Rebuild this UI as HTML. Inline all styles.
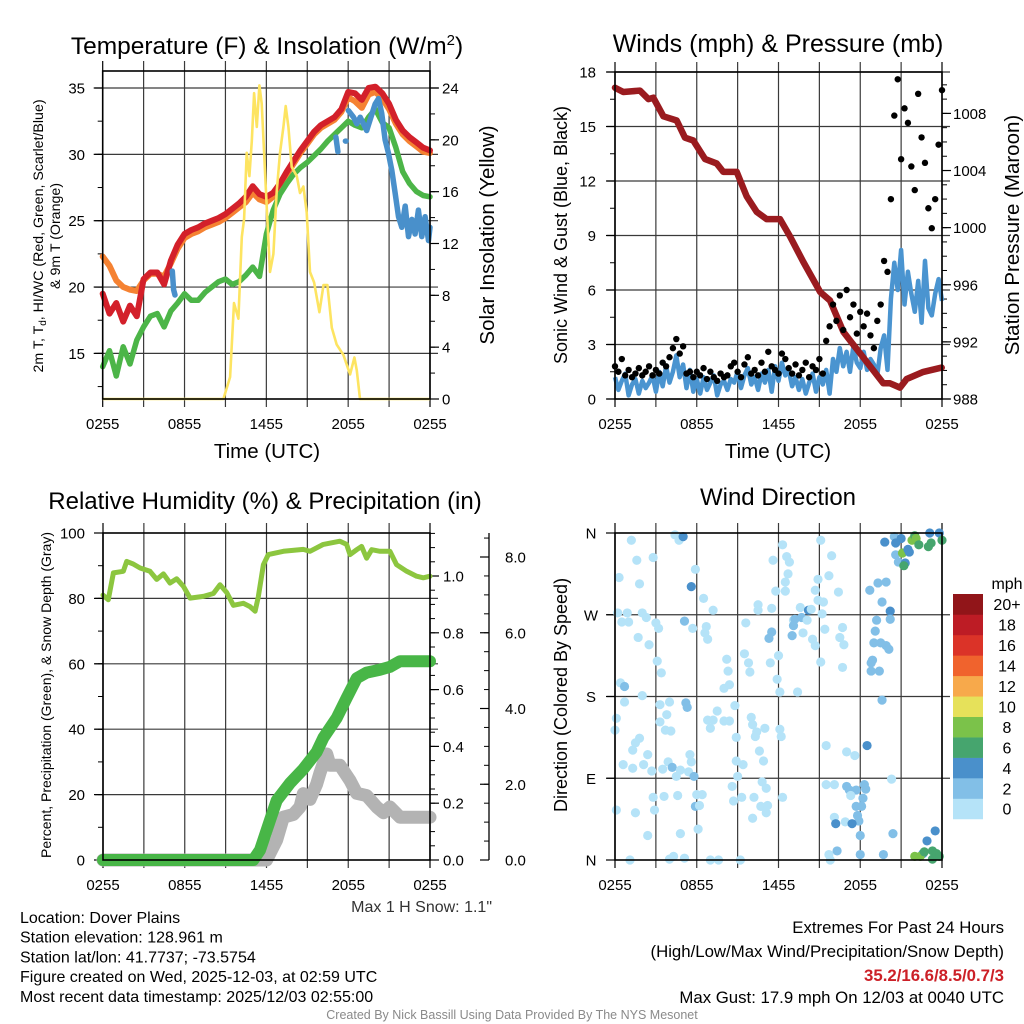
<!DOCTYPE html>
<html>
<head>
<meta charset="utf-8">
<style>
html,body{margin:0;padding:0;background:#fff;}
svg{display:block;font-family:"Liberation Sans",Arial,sans-serif;}
</style>
</head>
<body>
<svg id="chart" width="1024" height="1024" viewBox="0 0 1024 1024" xmlns="http://www.w3.org/2000/svg">
<rect x="0" y="0" width="1024" height="1024" fill="#fff"/>
<text x="267" y="54" font-size="24.5" text-anchor="middle">Temperature (F) &amp; Insolation (W/m<tspan dy="-9" font-size="15">2</tspan><tspan dy="9">)</tspan></text>
<text x="778" y="52" font-size="25" text-anchor="middle">Winds (mph) &amp; Pressure (mb)</text>
<text x="265" y="509" font-size="24" text-anchor="middle">Relative Humidity (%) &amp; Precipitation (in)</text>
<text x="778" y="505" font-size="24" text-anchor="middle">Wind Direction</text>
<text x="267" y="458" font-size="20.5" text-anchor="middle">Time (UTC)</text>
<text x="778" y="458" font-size="20.5" text-anchor="middle">Time (UTC)</text>
<text transform="translate(43,236) rotate(-90)" font-size="14.2" text-anchor="middle">2m T, T<tspan dy="3" font-size="10">d</tspan><tspan dy="-3">, HI/WC (Red, Green, Scarlet/Blue)</tspan></text>
<text transform="translate(60,236) rotate(-90)" font-size="14.2" text-anchor="middle">&amp; 9m T (Orange)</text>
<text transform="translate(494,235) rotate(-90)" font-size="20.5" text-anchor="middle">Solar Insolation (Yellow)</text>
<text transform="translate(567,235) rotate(-90)" font-size="18" text-anchor="middle">Sonic Wind &amp; Gust (Blue, Black)</text>
<text transform="translate(1019,235) rotate(-90)" font-size="20.5" text-anchor="middle">Station Pressure (Maroon)</text>
<text transform="translate(51,695) rotate(-90)" font-size="14" text-anchor="middle">Percent, Precipitation (Green), &amp; Snow Depth (Gray)</text>
<text transform="translate(567,695) rotate(-90)" font-size="18" text-anchor="middle">Direction (Colored By Speed)</text>
<text x="492" y="912" font-size="16" fill="#333" text-anchor="end">Max 1 H Snow: 1.1"</text>
<g font-size="16">
<text x="20" y="923">Location: Dover Plains</text>
<text x="20" y="942.5">Station elevation: 128.961 m</text>
<text x="20" y="962.5">Station lat/lon: 41.7737; -73.5754</text>
<text x="20" y="982">Figure created on Wed, 2025-12-03, at 02:59 UTC</text>
<text x="20" y="1002">Most recent data timestamp: 2025/12/03 02:55:00</text>
</g>
<g font-size="16.8" text-anchor="end">
<text x="1004" y="933">Extremes For Past 24 Hours</text>
<text x="1004" y="957">(High/Low/Max Wind/Precipitation/Snow Depth)</text>
<text x="1004" y="981" fill="#cc2027" font-weight="bold">35.2/16.6/8.5/0.7/3</text>
<text x="1004" y="1003">Max Gust: 17.9 mph On 12/03 at 0040 UTC</text>
</g>
<text x="512" y="1019" font-size="12.5" fill="#8a8a8a" text-anchor="middle">Created By Nick Bassill Using Data Provided By The NYS Mesonet</text>
<text x="1007" y="589" font-size="16" text-anchor="middle">mph</text>
</svg>
<script>
// ---------- DATA ----------
const timeLabels = ['0255','0855','1455','2055','0255'];
const timeLabelHours = [0,6,12,18,24];
const redTemp = [19.5,18.0,18.8,17.4,18.6,17.8,20.6,21.1,21.1,20.2,22.0,23.2,24.0,24.3,24.5,24.8,25.0,25.2,25.5,25.9,26.3,26.8,27.6,27.0,26.8,27.1,27.8,28.7,29.5,30.3,31.0,31.7,32.2,32.5,32.8,33.4,34.7,34.6,34.1,35.0,35.1,34.6,33.8,32.6,31.8,31.3,30.9,30.5,30.3];
const orangeTemp = [22.3,21.6,20.5,20.0,19.8,19.7,20.5,21.0,21.0,20.8,21.8,22.9,23.7,24.0,24.2,24.5,24.7,24.9,25.2,25.6,26.0,26.4,27.1,26.6,26.4,26.8,27.6,28.5,29.3,30.1,30.8,31.5,32.0,32.3,32.6,33.2,34.3,34.0,33.5,34.5,34.7,34.2,33.4,32.3,31.5,31.0,30.6,30.2,30.1];
const greenDew = [14.0,15.2,13.3,15.5,14.2,16.0,17.0,17.8,18.0,17.0,18.2,18.8,19.5,19.0,19.0,19.6,20.0,20.4,20.6,20.2,20.4,20.9,21.5,20.8,24.0,25.8,27.0,27.8,28.5,29.0,29.4,29.9,30.4,31.0,31.5,32.0,32.5,32.2,32.0,32.8,33.4,32.4,32.0,30.5,28.7,27.8,27.2,26.9,26.8];
const blueHours = [5.1,5.2,5.3,null,17.1,17.25,null,17.8,17.85,null,18.02,18.39,18.63,18.88,19.36,19.61,19.98,20.22,20.46,20.71,20.95,21.2,21.44,21.69,21.93,22.18,22.42,22.67,22.91,23.15,23.4,23.64,23.89,24];
const blueIndex = [21.2,19.8,19.4,null,31.3,30.2,null,31.0,31.0,null,33.3,32.8,32.3,32.8,31.8,32.6,33.8,34.2,33.1,31.1,30.1,28.8,27.1,25.3,24.5,26.1,23.8,25.1,24.0,25.8,23.8,25.3,23.5,24.5];
const solarHours = [0,8.85,9.34,9.63,9.95,10.2,10.37,10.56,10.76,10.93,11.1,11.3,11.49,11.66,11.78,12.03,12.27,12.52,12.76,13.0,13.25,13.42,13.62,13.86,14.23,14.47,14.72,14.96,15.2,15.5,15.89,16.19,16.48,16.8,17.16,17.65,18.14,18.46,18.63,18.87,24];
const solarValues = [0,0,1.7,7.4,6.2,12.5,13.9,19.0,17.2,19.9,23.6,21.0,24.2,22.8,20.3,14.7,9.8,11.2,16.0,19.0,21.0,22.6,21.0,17.9,17.2,15.9,16.4,14.4,9.8,9.0,6.7,8.8,8.8,5.5,4.2,3.4,1.9,3.2,2.2,0,0];
const windSpeed = [1.2,0.5,1.0,1.4,0.2,0.8,1.1,0.3,1.0, 0.6,0.9,1.3,0.4,1.5,0.7,1.8,0.9, 1.5,2.4,1.2,1.9,0.6,1.6,0.4,1.1, 0.3,1.2,0.5,0.9,1.3,0.2,0.8,1.0, 0.5,1.1,0.9,1.5,0.6,1.3,1.7,0.8, 1.2,0.5,1.4,0.9,1.6,0.4,1.8,1.0, 2.0,1.3,1.6,0.7,1.2,0.5,1.1,0.3, 0.9,1.4,0.4,1.2,0.8,1.6,0.3,2.2, 1.5,2.8,1.8,2.6,1.5,2.9,2.0,1.7, 2.6,1.6,2.2,1.9,1.3,2.8,3.5,1.6, 5.5,7.5,6.0,8.2,5.2,7.0,5.8,4.8, 6.5,4.2,7.6,5.0,4.6,5.8,6.6,5.4];
const windGust = [1.8,1.5,2.2,1.3,1.6,1.2,1.4,1.7,1.3, 1.5,1.8,1.3,1.6,1.4,2.0,1.8,2.3, 2.8,3.3,2.5,2.9,1.4,1.5,1.2,1.5, 1.3,1.7,1.1,1.5,1.2,1.0,1.4,1.2, 1.3,1.8,2.0,1.5,1.2,1.9,2.3,1.4, 1.6,1.3,2.0,1.5,2.6,1.8,1.6,1.4, 2.5,2.2,1.7,1.4,1.9,1.3,1.6,2.0, 1.2,1.8,1.6,2.2,1.4,3.2,4.0,5.2, 4.3,5.7,3.8,6.0,4.5,5.2,3.6,4.8, 4.0,4.7,3.5,2.8,4.3,5.2,7.6,7.0, 11.0,15.6,17.6,13.2,16.0,15.2,12.8,11.5, 16.8,14.4,13.0,10.5,9.4,11.0,14.0,17.0];
const pressureHours = [0,0.61,1.83,2.45,2.81,3.55,4.53,5.14,5.75,6.61,7.46,7.95,8.93,9.66,10.4,11.13,12.11,12.84,13.82,15.05,15.78,16.76,17.74,18.72,19.69,20.18,20.92,21.41,22.63,23.98];
const pressureValues = [1009.8,1009.5,1009.6,1009.0,1009.1,1007.8,1007.5,1006.3,1006.1,1004.8,1004.5,1003.9,1003.9,1002.2,1001.1,1000.6,1000.6,999.4,997.6,995.5,994.9,992.7,991.5,990.3,989.1,989.1,988.8,989.4,989.9,990.2];
const rhHours = [0,0.39,0.76,1.49,1.74,2.23,2.72,3.45,3.94,4.43,4.92,5.41,5.9,6.39,7.36,8.1,8.59,9.08,9.57,10.3,10.79,11.16,11.4,11.77,12.13,13.24,14.7,15.19,16.17,17.39,17.88,18.13,18.62,18.98,19.35,19.72,20.33,21.06,21.55,22.29,23.02,23.51,24];
const rhValues = [81,79.6,87.8,88.3,91.3,90.5,89.3,88.3,85.8,87.5,84.7,86.0,83.7,80.1,80.6,81.5,84.2,81.8,77.9,78.5,77.5,76.1,80.5,90.3,93.4,94.4,95.0,94.4,96.5,97.5,96.5,93.4,94.9,95.9,92.3,94.9,94.4,94.4,90.3,88.3,86.8,86.3,86.8];
const precipHours = [0,11.03,11.52,12.26,12.75,13.72,14.7,15.68,16.17,17.15,17.88,18.62,19.35,20.33,21.06,21.8,24];
const precipValues = [0,0,0.035,0.14,0.21,0.27,0.32,0.38,0.43,0.50,0.57,0.64,0.66,0.67,0.68,0.70,0.70];
const snowHours = [0,12.01,12.75,13.24,13.97,14.46,14.7,15.19,15.68,15.93,16.17,16.42,16.66,17.39,18.13,18.62,19.35,20.09,20.58,21.06,21.8,24];
const snowValues = [0,0,0.53,1.13,1.2,1.4,1.75,1.6,2.0,2.3,2.55,2.8,2.5,2.5,2.1,1.76,1.7,1.4,1.25,1.4,1.13,1.13];
const dirHours = [1.2,4.4,4.7,5.0,1.6,2.8,0.3,1.8,5.9,5.6,6.5,7.2,0.2,0.9,0.5,1.0,2.0,2.3,3.0,3.2,5.1,5.7,6.7,6.6,6.8,1.7,2.5,3.1,3.4,0.4,0.7,2.0,0.7,3.3,4.0,5.2,5.3,0.1,0.0,3.8,3.3,3.7,4.1,1.8,1.5,1.3,2.4,0.6,1.3,2.1,2.7,3.5,3.9,4.2,4.8,4.5,5.4,5.5,5.6,5.8,0.1,1.5,2.8,2.9,3.6,4.6,6.0,6.4,5.9,6.2,2.4,4.8,6.1,1.1,4.0,4.3,5.1,7.0,7.6,9.2,8.2,8.3,8.0,8.4,7.5,6.8,7.2,7.0,8.0,8.4,8.8,8.9,9.6,9.5,9.8,9.9,8.9,9.4,9.0,8.6,8.7,9.3,10.1,10.2,10.0,10.1,10.4,10.3,11.0,10.6,10.9,10.8,11.1,10.7,11.1,11.2,12.3,11.6,12.3,12.6,12.8,12.7,12.5,11.8,12.5,10.5,10.5,11.5,11.3,11.5,12.0,11.4,11.9,12.1,12.1,12.2,13.1,13.2,13.6,13.7,13.1,13.0,14.1,14.2,13.8,14.4,13.4,14.9,14.7,14.9,15.3,15.2,15.4,14.5,14.7,15.1,15.1,15.9,15.7,16.4,16.7,16.5,16.8,16.7,15.5,17.0,17.6,15.5,16.1,16.1,16.9,15.7,15.8,16.3,18.7,19.3,19.9,19.6,20.2,19.2,20.2,19.1,19.0,19.5,19.9,20.1,18.9,18.8,18.8,19.4,19.6,18.5,17.0,17.2,17.7,18.3,18.4,17.3,18.2,17.7,18.1,17.8,17.9,17.4,16.2,18.0,18.0,19.7,20.4,20.3,19.8,20.5,20.6,21.0,20.6,20.8,21.3,21.2,21.1,21.5,21.6,21.8,22.0,22.1,22.3,23.0,23.2,23.1,23.8,24.0,23.5,22.9,22.6,22.0,22.4,22.7,23.3,23.6,23.8,23.3];
const dirDegrees = [352,358,352,356,330,333,311,304,320,301,288,275,272,272,262,262,272,267,261,255,263,255,257,250,243,245,237,219,206,195,191,181,174,171,174,173,168,156,143,160,152,143,142,134,129,121,116,105,101,105,98,100,108,102,99,92,97,116,108,92,55,52,69,55,70,71,72,72,59,60,27,29,34,0,1,4,2,0,0,0,221,208,189,193,164,154,154,145,153,153,170,135,261,227,217,207,109,105,92,81,65,69,46,69,157,149,141,136,145,120,109,86,79,59,52,60,69,330,347,334,328,315,306,296,296,281,275,277,244,251,225,217,199,185,144,136,264,265,278,267,258,247,264,275,250,276,185,309,297,286,284,271,254,243,236,218,352,335,313,295,256,245,237,212,126,119,115,83,83,47,42,6,0,10,297,305,306,284,274,264,265,252,239,239,236,232,220,217,208,208,176,126,81,77,77,83,78,71,68,59,59,49,43,40,40,27,6,6,29,89,350,356,349,354,336,328,327,324,338,342,339,352,357,354,347,345,349,360,360,352,32,21,7,4,4,9,10,7,4,1];
const dirSpeeds = [
1,1,1,5,1,1,1,1,1,5, 1,1,1,1,1,1,1,1,1,1, 3,1,1,1,1,1,1,1,1,1, 3,1,1,1,1,3,3,1,1,1, 1,1,1,1,1,1,1,1,1,1, 1,1,1,3,1,1,1,1,1,3, 1,1,1,1,1,1,1,1,3,1, 1,1,1,1,1,1,1,1,1,1,
1,1,1,1,1,1,1,1,1,1, 1,1,1,1,1,1,1,1,1,1, 1,1,1,1,1,1,1,1,1,1, 1,1,1,1,1,1,1,1,1,1, 1,1,1,1,1,1,1,1,3,3, 1,1,1,1,1,1,1,3,1,3, 3,3,1,5,1,1,1,1,1,1, 1,1,1,1,1,1,1,1,1,1, 1,1,1,1,1,1,1,1,1,1, 1,1,1,3,
3,3,3,3,5,3,3,3,3,3, 3,3,3,3,3,3,3,5,3,3, 3,3,3,1,3,3,3,3,3,5, 5,3,3,3,3,1,5,3,5,5, 3,3,5,7,9,5,5,9,7,9, 7,7,7,5,5,7,5,5,5,9, 9,7,7,7,7,7];
const speedBins = ['0','2','4','6','8','10','12','14','16','18','20+'];
const speedColors = ['#b5e3f8','#82bfe7','#4a90cb','#46a56e','#7bc24a','#e6e15a','#f7a94b','#f0632d','#db3328','#bd1c25','#911519'];

// ---------- HELPERS ----------
const NS = 'http://www.w3.org/2000/svg';
const svg = document.getElementById('chart');
function mk(tag, attrs, parent) {
  const e = document.createElementNS(NS, tag);
  for (const k in attrs) e.setAttribute(k, attrs[k]);
  (parent || svg).appendChild(e);
  return e;
}
function pathD(hs, vs, sx, sy) {
  let d = '', pen = false;
  for (let i = 0; i < hs.length; i++) {
    if (hs[i] === null || vs[i] === null) { pen = false; continue; }
    d += (pen ? 'L' : 'M') + sx(hs[i]).toFixed(1) + ',' + sy(vs[i]).toFixed(1);
    pen = true;
  }
  return d;
}
function halfHours(n) { const a = []; for (let i = 0; i < n; i++) a.push(i * 0.5); return a; }
function quarterHours(n) { const a = []; for (let i = 0; i < n; i++) a.push(i * 0.25); return a; }
function linear(d0, d1, r0, r1) { return v => r0 + (v - d0) * (r1 - r0) / (d1 - d0); }

function frameAndGrid(name, x0, x1, y0, y1, sx, gridYs) {
  const g = mk('g', {});
  
  
  for (let h = 3; h < 24; h += 3) {
    const l = mk('line', {x1: sx(h), x2: sx(h), y1: y0 - 10, y2: y1 + 8, stroke: '#3a3a3a', 'stroke-width': 1.2}, g);
    
    
  }
  for (const y of gridYs) {
    const l = mk('line', {x1: x0 - 8, x2: x1 + 8, y1: y, y2: y, stroke: '#3a3a3a', 'stroke-width': 1.2}, g);
    
    
  }
  for (const h of [0, 24]) {
    const l = mk('line', {x1: sx(h), x2: sx(h), y1: y0 - 10, y2: y1 + 8, stroke: '#000', 'stroke-width': 1.2}, g);
    
    
  }
  const labels = mk('g', {'font-size': 15, 'text-anchor': 'middle'});
  
  
  for (let i = 0; i < timeLabels.length; i++) {
    const t = mk('text', {x: sx(timeLabelHours[i]), y: y1 + 30}, labels);
    
    
    t.textContent = timeLabels[i];
  }
}
function frame(name, x0, x1, y0, y1) {
  const r = mk('rect', {x: x0, y: y0, width: x1 - x0, height: y1 - y0, fill: 'none', stroke: '#000', 'stroke-width': 1.6});
  
  
}
function yTicks(name, x, side, values, sy, labels, minorVals, labelX, anchor) {
  const g = mk('g', {'font-size': 15, 'text-anchor': anchor});
  
  
  const dir = side === 'left' ? -1 : 1;
  for (const v of minorVals) {
    const l = mk('line', {x1: x, x2: x + dir * 5, y1: sy(v), y2: sy(v), stroke: '#000', 'stroke-width': 1}, g);
    
    
  }
  for (let i = 0; i < values.length; i++) {
    const l = mk('line', {x1: x, x2: x + dir * 9, y1: sy(values[i]), y2: sy(values[i]), stroke: '#000', 'stroke-width': 1.2}, g);
    
    
    const t = mk('text', {x: labelX, y: sy(values[i]) + 5.5}, g);
    
    
    t.textContent = labels[i];
  }
}
function range(a, b, s) { const r = []; for (let v = a; v <= b + 1e-9; v += s) r.push(+v.toFixed(4)); return r; }

// ---------- PANEL 1 ----------
{
  const sx = linear(0, 24, 102.7, 430);
  const syL = linear(35, 15, 88, 353.4);
  const syR = linear(0, 24, 399, 88);
  const major = [15, 20, 25, 30, 35];
  frameAndGrid('temp', 102.7, 430, 71, 399, sx, major.map(syL));
  yTicks('temp-left-axis', 102.7, 'left', major, syL, major.map(String), range(12.5, 35, 2.5), 85, 'end');
  const rmaj = [0, 4, 8, 12, 16, 20, 24];
  yTicks('insolation-right-axis', 430, 'right', rmaj, syR, rmaj.map(String), range(0, 25, 2), 442, 'start');
  const hh = halfHours(49);
  const p1 = mk('path', {d: pathD(hh, orangeTemp, sx, syL), fill: 'none', stroke: '#f58232', 'stroke-width': 6, 'stroke-linejoin': 'round', 'stroke-linecap': 'round'});
  
  
  const p2 = mk('path', {d: pathD(hh, redTemp, sx, syL), fill: 'none', stroke: '#d3202a', 'stroke-width': 6, 'stroke-linejoin': 'round', 'stroke-linecap': 'round'});
  
  
  const p3 = mk('path', {d: pathD(hh, greenDew, sx, syL), fill: 'none', stroke: '#4cb548', 'stroke-width': 5.5, 'stroke-linejoin': 'round', 'stroke-linecap': 'round'});
  
  
  const p4 = mk('path', {d: pathD(blueHours, blueIndex, sx, syL), fill: 'none', stroke: '#4990cb', 'stroke-width': 5.5, 'stroke-linejoin': 'round', 'stroke-linecap': 'round'});
  
  
  const p5 = mk('path', {d: pathD(solarHours, solarValues, sx, syR), fill: 'none', stroke: '#fde461', 'stroke-width': 2.6, 'stroke-linejoin': 'round'});
  
  
  frame('temp', 102.7, 430, 71, 399);
}

// ---------- PANEL 2 ----------
{
  const sx = linear(0, 24, 615, 942);
  const syL = linear(0, 18, 399, 72);
  const syR = linear(988, 1008, 399, 113.4);
  const major = [0, 3, 6, 9, 12, 15, 18];
  frameAndGrid('winds', 615, 942, 72, 399, sx, major.map(syL));
  yTicks('wind-left-axis', 615, 'left', major, syL, major.map(String), range(0, 18, 1.5), 596, 'end');
  const rmaj = [988, 992, 996, 1000, 1004, 1008];
  yTicks('pressure-right-axis', 942, 'right', rmaj, syR, rmaj.map(String), range(988, 1010, 1), 953, 'start');
  const qh = quarterHours(97);
  const w = mk('path', {d: pathD(qh, windSpeed, sx, syL), fill: 'none', stroke: '#4a94d0', 'stroke-width': 4.5, 'stroke-linejoin': 'round'});
  
  
  const p = mk('path', {d: pathD(pressureHours, pressureValues, sx, syR), fill: 'none', stroke: '#9a1b1f', 'stroke-width': 6.5, 'stroke-linejoin': 'round', 'stroke-linecap': 'round'});
  
  
  const gg = mk('g', {fill: '#000'});
  
  
  for (let i = 0; i < windGust.length; i++) {
    const c = mk('circle', {cx: sx(qh[i]), cy: syL(windGust[i]), r: 3.2}, gg);
    
    
  }
  frame('winds', 615, 942, 72, 399);
}

// ---------- PANEL 3 ----------
{
  const sx = linear(0, 24, 103, 430);
  const syL = linear(0, 100, 860, 533);
  const syR = linear(0, 1, 860, 576);
  const syS = linear(0, 8, 860, 557);
  const major = [0, 20, 40, 60, 80, 100];
  frameAndGrid('rh', 103, 430, 533, 860, sx, [20, 40, 60, 80].map(syL));
  yTicks('rh-left-axis', 103, 'left', major, syL, major.map(String), range(0, 100, 10), 85, 'end');
  const rmaj = [0, 0.2, 0.4, 0.6, 0.8, 1.0];
  yTicks('precip-right-axis', 430, 'right', rmaj, syR, rmaj.map(v => v.toFixed(1)), range(0, 1.15, 0.05), 443, 'start');
  const smaj = [0, 2, 4, 6, 8];
  yTicks('snow-depth-axis', 489, 'left', smaj, syS, smaj.map(v => v.toFixed(1)), range(0, 8.5, 0.5), 505, 'start');
  const ax = mk('line', {x1: 489, x2: 489, y1: 533, y2: 860, stroke: '#000', 'stroke-width': 1.3});
  
  
  const rh = mk('path', {d: pathD(rhHours, rhValues, sx, syL), fill: 'none', stroke: '#8cc63f', 'stroke-width': 5, 'stroke-linejoin': 'round', 'stroke-linecap': 'round'});
  
  
  const sn = mk('path', {d: pathD(snowHours, snowValues, sx, syS), fill: 'none', stroke: '#b3b3b3', 'stroke-width': 13, 'stroke-linejoin': 'round', 'stroke-linecap': 'round'});
  
  
  const pr = mk('path', {d: pathD(precipHours, precipValues, sx, syR), fill: 'none', stroke: '#48b647', 'stroke-width': 12, 'stroke-linejoin': 'round', 'stroke-linecap': 'round'});
  
  
  frame('rh', 103, 430, 533, 860);
}

// ---------- PANEL 4 ----------
{
  const sx = linear(0, 24, 615, 942);
  const sy = linear(0, 360, 860, 533);
  frameAndGrid('direction', 615, 942, 533, 860, sx, [90, 180, 270].map(sy));
  const dm = [0, 90, 180, 270, 360];
  yTicks('direction-left-axis', 615, 'left', dm, sy, ['N', 'E', 'S', 'W', 'N'], [], 591, 'middle');
  const gg = mk('g', {});
  
  
  const n = Math.min(dirHours.length, dirDegrees.length);
  for (let i = 0; i < n; i++) {
    const sp = dirSpeeds[i] === undefined ? 1 : dirSpeeds[i];
    const bin = Math.min(10, Math.floor(sp / 2));
    const c = mk('circle', {cx: sx(dirHours[i]), cy: sy(dirDegrees[i]), r: 4.6, fill: speedColors[bin]}, gg);
    
    
  }
  frame('direction', 615, 942, 533, 860);
  const lg = mk('g', {'font-size': 16, 'text-anchor': 'middle'});
  
  
  const boxH = 20.45;
  for (let i = 0; i < speedBins.length; i++) {
    const y = 594 + (speedBins.length - 1 - i) * boxH;
    const r = mk('rect', {x: 953, y: y, width: 30, height: boxH + 0.3, fill: speedColors[i]}, lg);
    
    
    const t = mk('text', {x: 1007, y: y + boxH / 2 + 6}, lg);
    
    
    t.textContent = speedBins[i];
  }
}
</script>
</body>
</html>
